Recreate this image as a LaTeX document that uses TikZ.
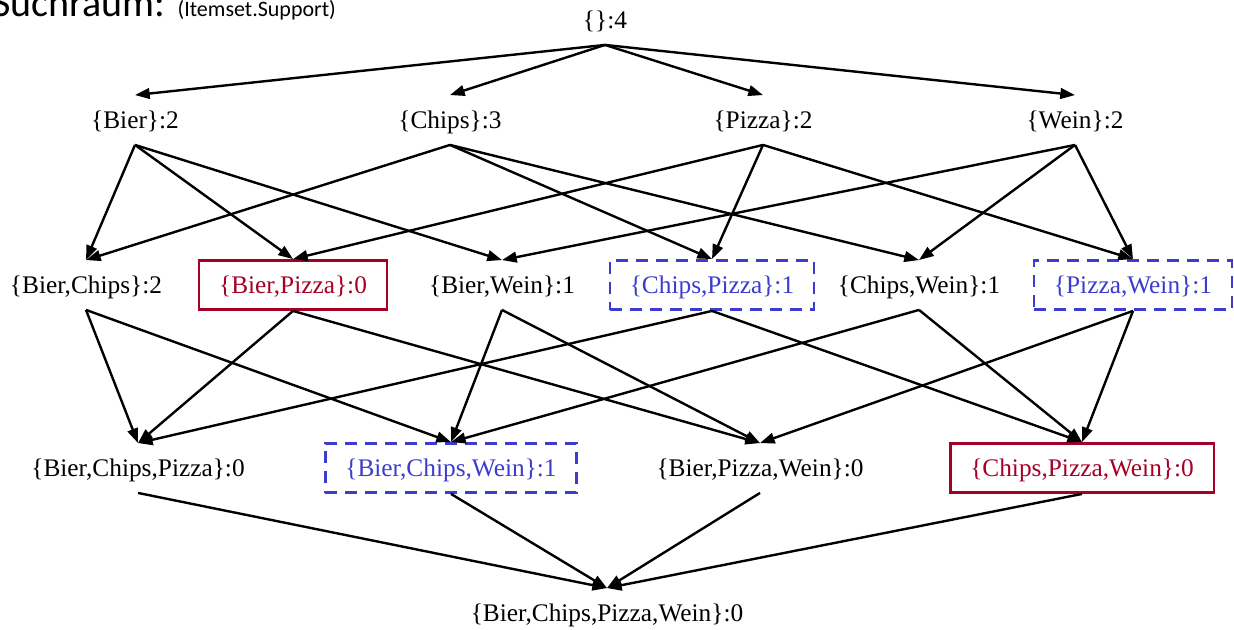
\documentclass[tikz,border=0pt]{standalone}
\usepackage{fontspec}
\setmainfont{Liberation Serif}
\newfontfamily\titlefont{Carlito}
\usetikzlibrary{arrows.meta}
\definecolor{setred}{RGB}{165,0,38}
\definecolor{setblue}{RGB}{60,60,205}

\begin{document}
\begin{tikzpicture}[x=0.75pt,y=0.75pt,yscale=-1,xscale=1,
  itemset/.style={font=\fontsize{19}{23}\selectfont,text height=13.3pt,text depth=0.6pt,minimum height=37pt,inner xsep=15pt},
  infrequent/.style={itemset,draw=setred,line width=1.9pt,text=setred},
  candidate/.style={itemset,draw=setblue,line width=1.9pt,dash pattern=on 9pt off 6pt,text=setblue},
  edge/.style={line width=1.8pt,-{Triangle[length=11pt,width=8pt]}}]
\useasboundingbox (0,0) rectangle (1234,630);

% Text Node
\node (title) [anchor=base west,inner sep=0pt] at (-8,17) {\titlefont\fontsize{30}{36}\selectfont Suchraum: {\fontsize{16.5}{20}\selectfont (Itemset.Support)}};

%Itemsets, level 0 and 1
\node (empty) [itemset] at (605,20) {\{\}:4};
\node (bier) [itemset] at (135,120) {\{Bier\}:2};
\node (chips) [itemset] at (450,120) {\{Chips\}:3};
\node (pizza) [itemset] at (763,120) {\{Pizza\}:2};
\node (wein) [itemset] at (1075,120) {\{Wein\}:2};
%Itemsets, level 2
\node (bc) [itemset] at (86,285) {\{Bier,Chips\}:2};
\node (bp) [infrequent] at (293,285) {\{Bier,Pizza\}:0};
\node (bw) [itemset] at (502,285) {\{Bier,Wein\}:1};
\node (cp) [candidate] at (712,285) {\{Chips,Pizza\}:1};
\node (cw) [itemset] at (919,285) {\{Chips,Wein\}:1};
\node (pw) [candidate] at (1133,285) {\{Pizza,Wein\}:1};
%Itemsets, level 3
\node (bcp) [itemset] at (138,468) {\{Bier,Chips,Pizza\}:0};
\node (bcw) [candidate] at (451,468) {\{Bier,Chips,Wein\}:1};
\node (bpw) [itemset] at (760,468) {\{Bier,Pizza,Wein\}:0};
\node (cpw) [infrequent] at (1082,468) {\{Chips,Pizza,Wein\}:0};
%Itemsets, level 4
\node (bcpw) [itemset] at (607,613) {\{Bier,Chips,Pizza,Wein\}:0};

%Straight Lines, level 0 to 1
\draw [edge] (empty.south) -- (bier.north);
\draw [edge] (empty.south) -- (chips.north);
\draw [edge] (empty.south) -- (pizza.north);
\draw [edge] (empty.south) -- (wein.north);
%Straight Lines, level 1 to 2
\draw [edge] (bier.south) -- (bc.north);
\draw [edge] (bier.south) -- (bp.north);
\draw [edge] (bier.south) -- (bw.north);
\draw [edge] (chips.south) -- (bc.north);
\draw [edge] (chips.south) -- (cp.north);
\draw [edge] (chips.south) -- (cw.north);
\draw [edge] (pizza.south) -- (bp.north);
\draw [edge] (pizza.south) -- (cp.north);
\draw [edge] (pizza.south) -- (pw.north);
\draw [edge] (wein.south) -- (bw.north);
\draw [edge] (wein.south) -- (cw.north);
\draw [edge] (wein.south) -- (pw.north);
%Straight Lines, level 2 to 3
\draw [edge] (bc.south) -- (bcp.north);
\draw [edge] (bc.south) -- (bcw.north);
\draw [edge] (bp.south) -- (bcp.north);
\draw [edge] (bp.south) -- (bpw.north);
\draw [edge] (bw.south) -- (bcw.north);
\draw [edge] (bw.south) -- (bpw.north);
\draw [edge] (cp.south) -- (bcp.north);
\draw [edge] (cp.south) -- (cpw.north);
\draw [edge] (cw.south) -- (bcw.north);
\draw [edge] (cw.south) -- (cpw.north);
\draw [edge] (pw.south) -- (bpw.north);
\draw [edge] (pw.south) -- (cpw.north);
%Straight Lines, level 3 to 4
\draw [edge] (bcp.south) -- (bcpw.north);
\draw [edge] (bcw.south) -- (bcpw.north);
\draw [edge] (bpw.south) -- (bcpw.north);
\draw [edge] (cpw.south) -- (bcpw.north);

\end{tikzpicture}
\end{document}
